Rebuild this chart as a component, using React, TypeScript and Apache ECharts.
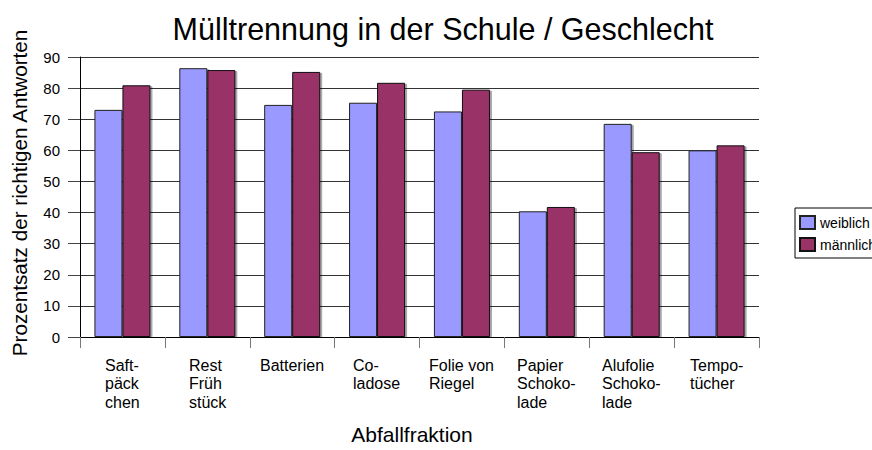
import React, { useEffect, useRef } from "react";
import * as echarts from "echarts";

const categories = [
  "Saft-\npäck\nchen",
  "Rest\nFrüh\nstück",
  "Batterien",
  "Co-\nladose",
  "Folie von\nRiegel",
  "Papier\nSchoko-\nlade",
  "Alufolie\nSchoko-\nlade",
  "Tempo-\ntücher",
];
const weiblich = [73.0, 86.4, 74.6, 75.3, 72.5, 40.4, 68.5, 60.0];
const maennlich = [80.9, 85.8, 85.2, 81.7, 79.5, 41.8, 59.4, 61.6];
const yTicks = { min: 0, max: 90, interval: 10 };

const FONT = '"Liberation Sans", Arial, sans-serif';
const CAT_SIZE = 16;
const LINE_H = 18.5;

let ctx: CanvasRenderingContext2D | null = null;
function measure(text: string): number {
  if (!ctx) ctx = document.createElement("canvas").getContext("2d");
  if (!ctx) return text.length * CAT_SIZE * 0.55;
  ctx.font = `${CAT_SIZE}px "Liberation Sans"`;
  return ctx.measureText(text).width;
}

export default function App() {
  const ref = useRef<HTMLDivElement>(null);
  useEffect(() => {
    if (!ref.current) return;
    const chart = echarts.init(ref.current, undefined, { renderer: "svg" });
    chart.setOption({
      animation: false,
      textStyle: { fontFamily: FONT },
      title: {
        text: "Mülltrennung in der Schule / Geschlecht",
        left: 438,
        textAlign: "center",
        top: 8,
        textStyle: { fontSize: 30.5, fontWeight: "normal", color: "#000", fontFamily: FONT },
      },
      legend: {
        orient: "vertical",
        left: 795,
        top: 208,
        padding: [7, 10, 6, 4],
        itemWidth: 15,
        itemHeight: 13,
        itemGap: 7,
        itemTextGap: 4,
        borderColor: "#000",
        borderWidth: 1,
        icon: "rect",
        textStyle: { fontSize: 14, color: "#000", fontFamily: FONT },
        data: ["weiblich", "männlich"],
      },
      grid: { left: 80, right: 113, top: 57, bottom: 107 },
      xAxis: {
        type: "category",
        data: categories,
        name: "Abfallfraktion",
        nameLocation: "middle",
        nameGap: 87,
        nameTextStyle: { fontSize: 21, color: "#000", fontFamily: FONT, padding: [0, 15, 0, 0] },
        axisLine: { lineStyle: { color: "#000", width: 1 } },
        axisTick: { show: true, length: 11, lineStyle: { color: "#777" } },
        axisLabel: { show: false },
      },
      yAxis: {
        type: "value",
        min: yTicks.min,
        max: yTicks.max,
        interval: yTicks.interval,
        name: "Prozentsatz der richtigen Antworten",
        nameLocation: "middle",
        nameGap: 50,
        nameTextStyle: { fontSize: 20.7, color: "#000", fontFamily: FONT, padding: [0, 0, 0, 8] },
        axisLine: { show: true, lineStyle: { color: "#000", width: 1 } },
        axisTick: { show: true, length: 12, lineStyle: { color: "#444" } },
        axisLabel: { margin: 20, fontSize: 15, color: "#000", fontFamily: FONT },
        splitLine: { show: true, lineStyle: { color: "#333", width: 1 } },
      },
      series: [
        {
          name: "weiblich",
          type: "bar",
          data: weiblich,
          barGap: "0%",
          barCategoryGap: "34%",
          itemStyle: {
            color: "#9999FF",
            borderColor: "#222",
            borderWidth: 1,
            shadowColor: "rgba(0,0,0,0.35)",
            shadowOffsetX: 2,
            shadowOffsetY: 1,
            shadowBlur: 1,
          },
        },
        {
          name: "männlich",
          type: "bar",
          data: maennlich,
          barGap: "0%",
          barCategoryGap: "34%",
          itemStyle: {
            color: "#993366",
            borderColor: "#111",
            borderWidth: 1,
            shadowColor: "rgba(0,0,0,0.35)",
            shadowOffsetX: 2,
            shadowOffsetY: 1,
            shadowBlur: 1,
          },
        },
      ],
    });
    // category labels: each line its own text, left edges aligned, block centred under category
    const y0 = chart.convertToPixel({ yAxisIndex: 0 }, 0) as number;
    const labels: any[] = [];
    categories.forEach((c, i) => {
      const cx = chart.convertToPixel({ xAxisIndex: 0 }, i) as number;
      const lines = c.split("\n");
      const w = Math.max(...lines.map(measure));
      const left = Math.round(cx - w / 2);
      lines.forEach((line, j) => {
        labels.push({
          type: "text",
          x: left,
          y: y0 + 19 + j * LINE_H + LINE_H / 2,
          silent: true,
          style: {
            text: line,
            fill: "#000",
            font: `${CAT_SIZE}px ${FONT}`,
            align: "left",
            verticalAlign: "middle",
            textAlign: "left",
            textVerticalAlign: "middle",
          },
        });
      });
    });
    chart.setOption({ graphic: labels });
    return () => chart.dispose();
  }, []);
  return (
    <div
      ref={ref}
      style={{ position: "fixed", left: 0, top: 0, width: 872, height: 450, background: "#fff" }}
    />
  );
}
